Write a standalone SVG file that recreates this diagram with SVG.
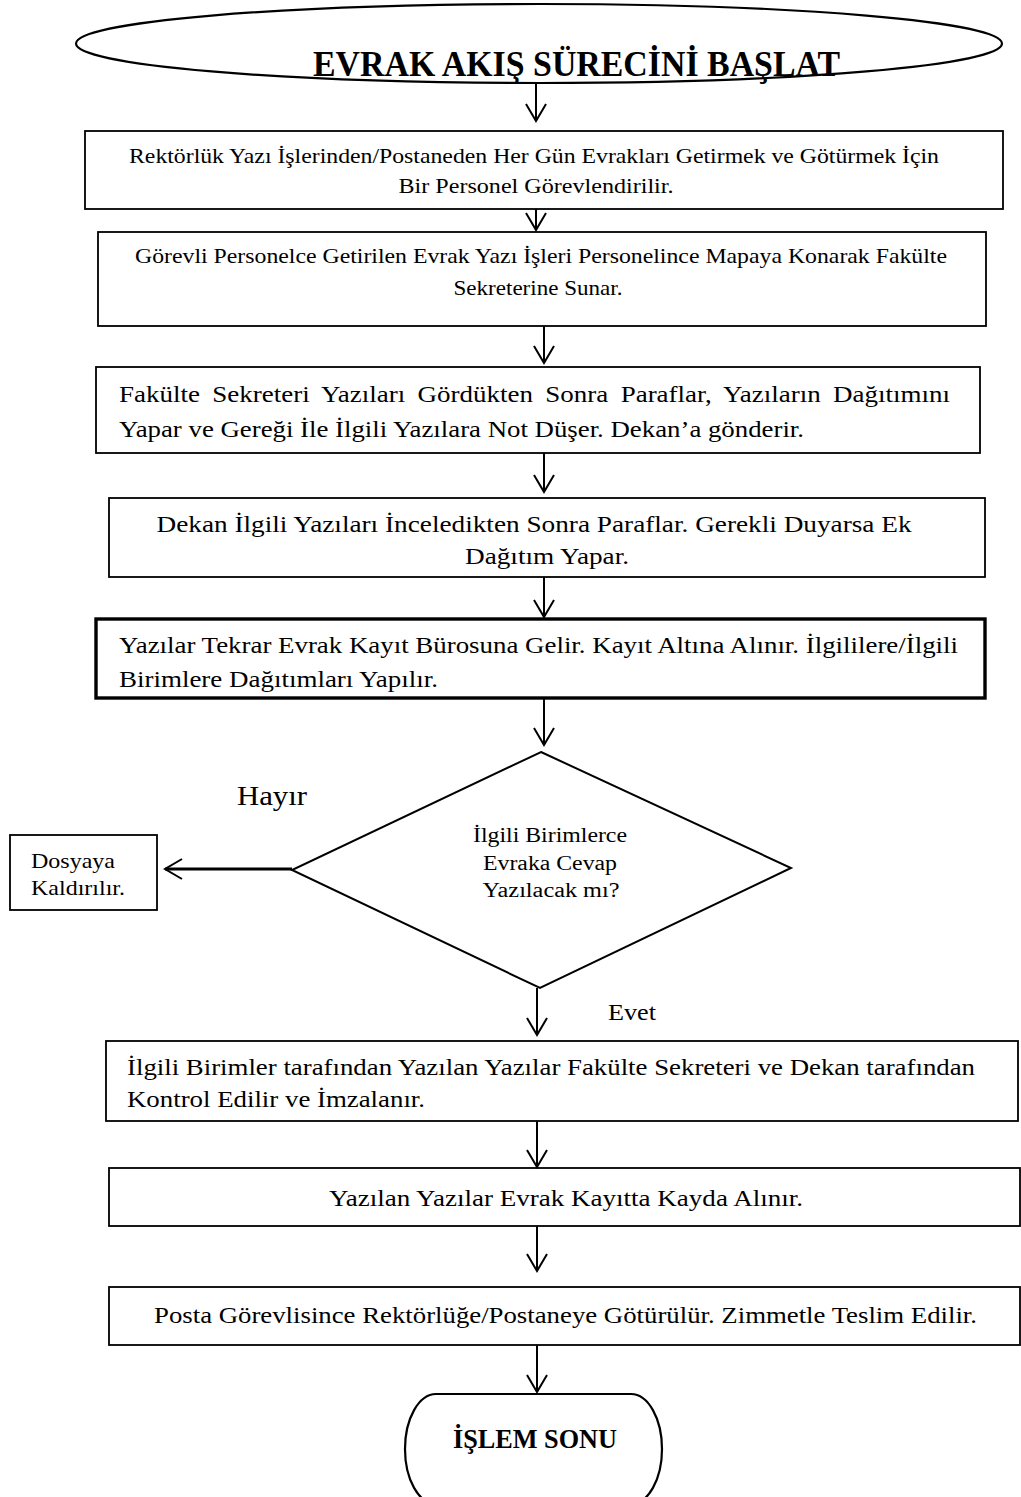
<svg xmlns="http://www.w3.org/2000/svg" width="1021" height="1497" viewBox="0 0 1021 1497">
  <style>
    text { font-family: "Liberation Serif", "Times New Roman", serif; fill: #000; }
    .t1 { font-size: 21.5px; }
    .t2 { font-size: 24px; }
    .td { font-size: 20.5px; }
    .tb { font-weight: bold; }
    .box { fill: #fff; stroke: #000; stroke-width: 1.8; }
    .thick { stroke-width: 3.4; }
    .edge { fill: none; stroke: #000; stroke-width: 2; marker-end: url(#head); }
    .edge-bold { stroke-width: 3; }
  </style>
  <defs>
    <!-- open V arrowhead -->
    <marker id="head" markerUnits="userSpaceOnUse" markerWidth="24" markerHeight="24" viewBox="-20 -12 24 24" refX="0" refY="0" orient="auto">
      <path d="M-17,-10 L0,0 L-17,10" fill="none" stroke="#000" stroke-width="2"/>
    </marker>
  </defs>
  <rect width="1021" height="1497" fill="#fff"/>

  <!-- start terminal -->
  <g id="start">
    <ellipse cx="539" cy="43.5" rx="463" ry="39.5" fill="#fff" stroke="#000" stroke-width="2.2"/>
    <text class="tb" x="313" y="76" font-size="35" textLength="527" lengthAdjust="spacingAndGlyphs">EVRAK AKIŞ SÜRECİNİ BAŞLAT</text>
  </g>

  <g id="step1">
    <rect class="box" x="85" y="131" width="918" height="78"/>
    <text class="t1" x="534" y="163" text-anchor="middle" textLength="810" lengthAdjust="spacingAndGlyphs">Rektörlük Yazı İşlerinden/Postaneden Her Gün Evrakları Getirmek ve Götürmek İçin</text>
    <text class="t1" x="536" y="193" text-anchor="middle" textLength="275" lengthAdjust="spacingAndGlyphs">Bir Personel Görevlendirilir.</text>
  </g>

  <g id="step2">
    <rect class="box" x="98" y="232" width="888" height="94"/>
    <text class="t1" x="541" y="263" text-anchor="middle" textLength="812" lengthAdjust="spacingAndGlyphs">Görevli Personelce Getirilen Evrak Yazı İşleri Personelince Mapaya Konarak Fakülte</text>
    <text class="t1" x="538" y="295" text-anchor="middle" textLength="169" lengthAdjust="spacingAndGlyphs">Sekreterine Sunar.</text>
  </g>

  <g id="step3">
    <rect class="box" x="96" y="367" width="884" height="86"/>
    <text class="t2" x="119" y="402" word-spacing="5" textLength="831" lengthAdjust="spacingAndGlyphs">Fakülte Sekreteri Yazıları Gördükten Sonra Paraflar, Yazıların Dağıtımını</text>
    <text class="t2" x="119" y="437" textLength="685" lengthAdjust="spacingAndGlyphs">Yapar ve Gereği İle İlgili Yazılara Not Düşer. Dekan’a gönderir.</text>
  </g>

  <g id="step4">
    <rect class="box" x="109" y="498" width="876" height="79"/>
    <text class="t2" x="534" y="532" text-anchor="middle" textLength="755" lengthAdjust="spacingAndGlyphs">Dekan İlgili Yazıları İnceledikten Sonra Paraflar. Gerekli Duyarsa Ek</text>
    <text class="t2" x="547" y="564" text-anchor="middle" textLength="164" lengthAdjust="spacingAndGlyphs">Dağıtım Yapar.</text>
  </g>

  <g id="step5">
    <rect class="box thick" x="96" y="619" width="889" height="79"/>
    <text class="t2" x="119" y="653" textLength="839" lengthAdjust="spacingAndGlyphs">Yazılar Tekrar Evrak Kayıt Bürosuna Gelir. Kayıt Altına Alınır. İlgililere/İlgili</text>
    <text class="t2" x="119" y="687" textLength="319" lengthAdjust="spacingAndGlyphs">Birimlere Dağıtımları Yapılır.</text>
  </g>

  <g id="decision">
    <polygon points="541,752 791,868 540,988 292,870" fill="#fff" stroke="#000" stroke-width="2"/>
    <text class="td" x="550" y="842" text-anchor="middle" textLength="154" lengthAdjust="spacingAndGlyphs">İlgili Birimlerce</text>
    <text class="td" x="550" y="870" text-anchor="middle" textLength="134" lengthAdjust="spacingAndGlyphs">Evraka Cevap</text>
    <text class="td" x="551" y="897" text-anchor="middle" textLength="137" lengthAdjust="spacingAndGlyphs">Yazılacak mı?</text>
  </g>

  <g id="archive">
    <rect class="box" x="10" y="835" width="147" height="75"/>
    <text x="31" y="868" font-size="21" textLength="84" lengthAdjust="spacingAndGlyphs">Dosyaya</text>
    <text x="31" y="895" font-size="21" textLength="94" lengthAdjust="spacingAndGlyphs">Kaldırılır.</text>
  </g>

  <g id="step6">
    <rect class="box" x="106" y="1041" width="912" height="80"/>
    <text class="t2" x="127" y="1075" textLength="848" lengthAdjust="spacingAndGlyphs">İlgili Birimler tarafından Yazılan Yazılar Fakülte Sekreteri ve Dekan tarafından</text>
    <text class="t2" x="127" y="1107" textLength="298" lengthAdjust="spacingAndGlyphs">Kontrol Edilir ve İmzalanır.</text>
  </g>

  <g id="step7">
    <rect class="box" x="109" y="1168" width="911" height="58"/>
    <text class="t2" x="566" y="1206" text-anchor="middle" textLength="474" lengthAdjust="spacingAndGlyphs">Yazılan Yazılar Evrak Kayıtta Kayda Alınır.</text>
  </g>

  <g id="step8">
    <rect class="box" x="109" y="1287" width="911" height="58" stroke-width="2.2"/>
    <text class="t2" x="154" y="1323" textLength="823" lengthAdjust="spacingAndGlyphs">Posta Görevlisince Rektörlüğe/Postaneye Götürülür. Zimmetle Teslim Edilir.</text>
  </g>

  <!-- end terminal, runs past the lower edge -->
  <g id="end">
    <rect x="405" y="1394" width="257" height="110" rx="31" ry="55" fill="#fff" stroke="#000" stroke-width="2.2"/>
    <text class="tb" x="535" y="1448" font-size="28" text-anchor="middle" textLength="164" lengthAdjust="spacingAndGlyphs">İŞLEM SONU</text>
  </g>

  <!-- branch labels -->
  <g id="labels">
    <text x="237" y="805" font-size="27" textLength="70" lengthAdjust="spacingAndGlyphs">Hayır</text>
    <text x="608" y="1020" font-size="23" textLength="48" lengthAdjust="spacingAndGlyphs">Evet</text>
  </g>

  <g id="connectors">
    <path class="edge" d="M536,83 V121"/>
    <path class="edge" d="M536,209 V230"/>
    <path class="edge" d="M544,326 V363"/>
    <path class="edge" d="M544,453 V492"/>
    <path class="edge" d="M544,577 V617"/>
    <path class="edge" d="M544,698 V745"/>
    <path class="edge edge-bold" d="M292,869 H165"/>
    <path class="edge" d="M537,988 V1035"/>
    <path class="edge" d="M537,1121 V1167"/>
    <path class="edge" d="M537,1226 V1271"/>
    <path class="edge" d="M537,1345 V1392"/>
  </g>
</svg>
